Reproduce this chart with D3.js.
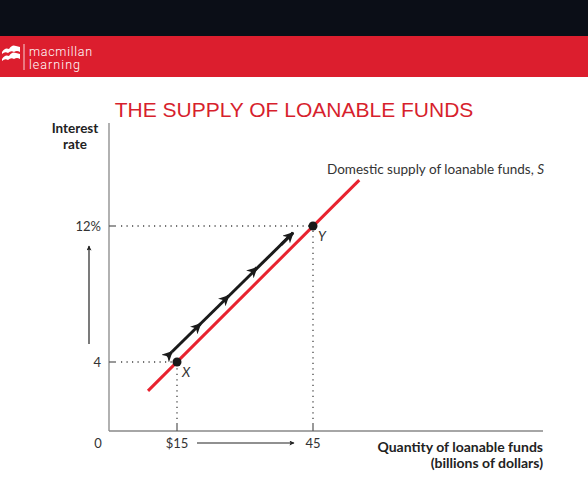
<!DOCTYPE html>
<html><head><meta charset="utf-8">
<script src="https://cdn.jsdelivr.net/npm/d3@7"></script>
<style>body{margin:0;background:#fff}svg{display:block}</style>
</head><body>
<script>
// Data
const supplyQ = [8.6, 55.2];          // billions of dollars
const supplyR = [2.3, 14.7];          // interest rate %
const pointNames = ["X", "Y"];
const pointQ = [15, 45];
const pointR = [4, 12];
const moveQ = [13.9, 20.2, 26.4, 32.6, 40.6]; // arrow along curve
const moveR = [4.6, 6.25, 7.9, 9.55, 11.6];
const xTickLabels = ["0", "$15", "45"];
const yTickLabels = ["4", "12%"];

const W = 588, H = 490;
const svg = d3.select("body").append("svg").attr("width", W).attr("height", H);
const defs = svg.append("defs");
defs.append("marker").attr("id","ah").attr("viewBox","0 0 10 10").attr("refX",9).attr("refY",5)
  .attr("markerWidth",3.6).attr("markerHeight",3.6).attr("orient","auto")
  .append("path").attr("d","M0,0L10,5L0,10L3,5Z").attr("fill","#1a1a1a");
defs.append("marker").attr("id","ah2").attr("viewBox","0 0 10 10").attr("refX",9).attr("refY",5)
  .attr("markerWidth",7).attr("markerHeight",5).attr("markerUnits","userSpaceOnUse").attr("orient","auto")
  .append("path").attr("d","M0,0L10,5L0,10L2,5Z").attr("fill","#222");

// Header bands
svg.append("rect").attr("x",0).attr("y",0).attr("width",W).attr("height",36).attr("fill","#0b0e17");
svg.append("rect").attr("x",0).attr("y",36).attr("width",W).attr("height",41).attr("fill","#dc1e2e");
// logo
const lg = svg.append("g").attr("fill","#fff");
lg.append("path").attr("d","M2,52 q3,-5 7,-3 q3,-5 7,-3 l4,1 l0,5 q-3,-2 -6,0 q-3,-2 -6,1 q-3,-2 -6,1 z");
lg.append("path").attr("d","M2,59 q3,-5 7,-3 q3,-5 7,-3 l4,1 l0,5 q-3,-2 -6,0 q-3,-2 -6,1 q-3,-2 -6,1 z");
svg.append("line").attr("x1",24).attr("x2",24).attr("y1",44).attr("y2",70).attr("stroke","#fff").attr("stroke-width",0.8);
svg.append("text").attr("x",29).attr("y",55.5).attr("fill","#fff").attr("font-family","Roboto, sans-serif")
  .attr("font-weight",300).attr("font-size",12.5).attr("textLength",63).attr("lengthAdjust","spacing").text("macmillan");
svg.append("text").attr("x",29).attr("y",69).attr("fill","#fff").attr("font-family","Roboto, sans-serif")
  .attr("font-weight",300).attr("font-size",12.5).attr("textLength",51).attr("lengthAdjust","spacing").text("learning");

// Title
svg.append("text").attr("x",294).attr("y",117).attr("text-anchor","middle").attr("fill","#d71f2d")
  .attr("font-family","Liberation Sans, Arial, sans-serif").attr("font-size",21).text("THE SUPPLY OF LOANABLE FUNDS");

// Scales
const x = d3.scaleLinear().domain([0, 60]).range([109, 381]);
const y = d3.scaleLinear().domain([0, 16]).range([430, 158]);

const font = "Lato, 'Open Sans', sans-serif";
const g = svg.append("g");

// Axes (lines only)
g.append("line").attr("x1",x(0)).attr("x2",x(0)).attr("y1",123).attr("y2",y(0)+1).attr("stroke","#888").attr("stroke-width",1.3);
g.append("line").attr("x1",x(0)).attr("x2",543).attr("y1",y(0)+1).attr("y2",y(0)+1).attr("stroke","#888").attr("stroke-width",1.3);

// Dotted guides and ticks
pointQ.forEach((q,i)=>{
  const r = pointR[i];
  g.append("line").attr("x1",x(0)).attr("x2",x(0)+7).attr("y1",y(r)).attr("y2",y(r)).attr("stroke","#555").attr("stroke-width",1.2);
  g.append("line").attr("x1",x(0)+12).attr("x2",x(q)).attr("y1",y(r)).attr("y2",y(r))
    .attr("stroke","#444").attr("stroke-width",1.3).attr("stroke-dasharray","1.2,4.3");
  g.append("line").attr("x1",x(q)).attr("x2",x(q)).attr("y1",y(0)+1).attr("y2",y(0)-7).attr("stroke","#555").attr("stroke-width",1.2);
  g.append("line").attr("x1",x(q)).attr("x2",x(q)).attr("y1",y(0)-11).attr("y2",y(r))
    .attr("stroke","#444").attr("stroke-width",1.3).attr("stroke-dasharray","1.2,4.3");
});

// Supply line
g.append("line").attr("x1",x(supplyQ[0])).attr("y1",y(supplyR[0])).attr("x2",x(supplyQ[1])).attr("y2",y(supplyR[1]))
  .attr("stroke","#e8232f").attr("stroke-width",3);

// Movement arrow
g.append("line").attr("x1",x(moveQ[0])).attr("y1",y(moveR[0])).attr("x2",x(moveQ[moveQ.length-1])).attr("y2",y(moveR[moveR.length-1]))
  .attr("stroke","#1a1a1a").attr("stroke-width",3);
for(let i=0;i<moveQ.length;i++){
  const q = moveQ[i], r = moveR[i];
  const dq = 1.2, dr = dq*(moveR[4]-moveR[0])/(moveQ[4]-moveQ[0]);
  const len = i===moveQ.length-1 ? 2.2 : 0.9;
  g.append("line").attr("x1",x(q-dq*len)).attr("y1",y(r-dr*len)).attr("x2",x(q)).attr("y2",y(r))
    .attr("stroke","#1a1a1a").attr("stroke-width",3).attr("marker-end","url(#ah)");
}

// Points
g.selectAll("circle.pt").data(pointQ).join("circle").attr("class","pt")
  .attr("cx",(d)=>x(d)).attr("cy",(d,i)=>y(pointR[i])).attr("r",4.5).attr("fill","#1a1a1a");
g.selectAll("text.pl").data(pointNames).join("text").attr("class","pl")
  .attr("x",(d,i)=>x(pointQ[i])+5).attr("y",(d,i)=>y(pointR[i])+15)
  .attr("font-family",font).attr("font-style","italic").attr("font-size",13.5).attr("fill","#333").text(d=>d);

// Tick labels
g.selectAll("text.yt").data(yTickLabels).join("text").attr("class","yt")
  .attr("x",101).attr("y",(d,i)=>y(pointR[i])+4.5).attr("text-anchor","end")
  .attr("font-family",font).attr("font-size",13).attr("fill","#333").text(d=>d);
const xtVals = [0, 15, 45];
g.selectAll("text.xt").data(xTickLabels).join("text").attr("class","xt")
  .attr("x",(d,i)=> i===0 ? 98 : x(xtVals[i])).attr("y",447.5).attr("text-anchor","middle")
  .attr("font-family",font).attr("font-size",13).attr("fill","#333").text(d=>d);

// Direction arrows
g.append("line").attr("x1",89).attr("x2",89).attr("y1",344).attr("y2",246).attr("stroke","#222").attr("stroke-width",1.2).attr("marker-end","url(#ah2)");
g.append("line").attr("x1",197).attr("x2",294).attr("y1",443).attr("y2",443).attr("stroke","#222").attr("stroke-width",1.2).attr("marker-end","url(#ah2)");

// Axis titles
g.append("text").attr("x",75).attr("y",133).attr("text-anchor","middle").attr("font-family",font).attr("font-weight",700)
  .attr("font-size",13.5).attr("fill","#222").text("Interest");
g.append("text").attr("x",75).attr("y",149).attr("text-anchor","middle").attr("font-family",font).attr("font-weight",700)
  .attr("font-size",13.5).attr("fill","#222").text("rate");
const xtT = g.append("text").attr("text-anchor","end").attr("font-family",font).attr("font-weight",700).attr("font-size",14).attr("fill","#222");
xtT.append("tspan").attr("x",543).attr("y",452).text("Quantity of loanable funds");
xtT.append("tspan").attr("x",543).attr("y",468).text("(billions of dollars)");

// Curve label
const cl = g.append("text").attr("x",327).attr("y",174).attr("font-family",font).attr("font-size",13.5).attr("fill","#333");
cl.append("tspan").text("Domestic supply of loanable funds, ");
cl.append("tspan").attr("font-style","italic").text("S");
</script>
</body></html>
